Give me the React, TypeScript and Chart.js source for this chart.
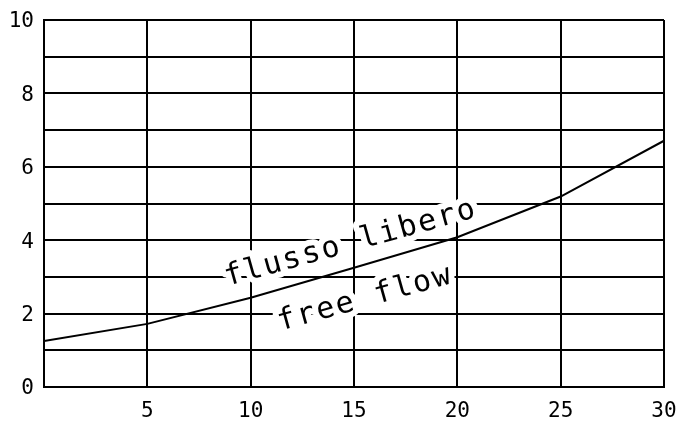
import React, { useEffect, useRef } from "react";
import { Chart, registerables } from "chart.js";

Chart.register(...registerables);

const xValues = [0, 5, 10, 15, 20, 25, 30];
const yValues = [1.25, 1.72, 2.43, 3.25, 4.08, 5.19, 6.71];

const xTickLabels = ["5", "10", "15", "20", "25", "30"];
const yTickLabels = ["0", "2", "4", "6", "8", "10"];

const noteTexts = ["flusso libero", "free flow"];
const noteX = [14.95, 15.64];
const noteY = [3.7, 2.19];
const noteAngle = -15.5;

const textPlugin = {
  id: "cadText",
  beforeDatasetsDraw(chart: any) {
    const ctx = chart.ctx as CanvasRenderingContext2D;
    const xs = chart.scales.x;
    const ys = chart.scales.y;
    noteTexts.forEach((t, i) => {
      const px = xs.getPixelForValue(noteX[i]);
      const py = ys.getPixelForValue(noteY[i]);
      ctx.save();
      ctx.translate(px, py);
      ctx.rotate((noteAngle * Math.PI) / 180);
      ctx.font = "30px 'DejaVu Sans Mono'";
      (ctx as any).letterSpacing = "2px";
      ctx.textAlign = "center";
      ctx.textBaseline = "alphabetic";
      ctx.lineJoin = "round";
      ctx.strokeStyle = "#ffffff";
      ctx.lineWidth = 12;
      ctx.strokeText(t, 0, 0);
      ctx.fillStyle = "#000000";
      ctx.fillText(t, 0, 0);
      ctx.restore();
    });
  },
};

export default function App() {
  const ref = useRef<HTMLCanvasElement>(null);
  useEffect(() => {
    if (!ref.current) return;
    const chart = new Chart(ref.current, {
      type: "line",
      data: {
        datasets: [
          {
            data: xValues.map((x, i) => ({ x, y: yValues[i] })),
            borderColor: "#000000",
            borderWidth: 2,
            pointRadius: 0,
            tension: 0,
            fill: false,
          },
        ],
      },
      options: {
        animation: false,
        responsive: true,
        maintainAspectRatio: false,
        layout: { padding: { left: 0, top: 20, right: 15, bottom: 0 } },
        plugins: { legend: { display: false }, tooltip: { enabled: false } },
        scales: {
          x: {
            type: "linear",
            min: 0,
            max: 30,
            ticks: {
              stepSize: 5,
              color: "#000000",
              padding: 12,
              maxRotation: 0,
              font: { family: "'DejaVu Sans Mono'", size: 21 },
              callback: (v: any) => {
                const s = String(v);
                return xTickLabels.includes(s) ? s : "";
              },
            },
            grid: { color: "#000000", lineWidth: 2, drawTicks: false },
            border: { display: true, color: "#000000", width: 2 },
            afterFit: (s: any) => {
              s.height = 37;
              s.paddingLeft = 0;
              s.paddingRight = 0;
            },
          },
          y: {
            min: 0,
            max: 10,
            ticks: {
              stepSize: 1,
              color: "#000000",
              padding: 10,
              labelOffset: 2,
              font: { family: "'DejaVu Sans Mono'", size: 21 },
              callback: (v: any) => {
                const s = String(v);
                return yTickLabels.includes(s) ? s : "";
              },
            },
            grid: { color: "#000000", lineWidth: 2, drawTicks: false },
            border: { display: true, color: "#000000", width: 2 },
            afterFit: (s: any) => {
              s.width = 44;
              s.paddingTop = 0;
              s.paddingBottom = 0;
            },
          },
        },
      },
      plugins: [textPlugin],
    });
    return () => chart.destroy();
  }, []);
  return (
    <div style={{ position: "absolute", left: 0, top: 0, width: 679, height: 424, background: "#fff" }}>
      <canvas ref={ref} />
    </div>
  );
}
